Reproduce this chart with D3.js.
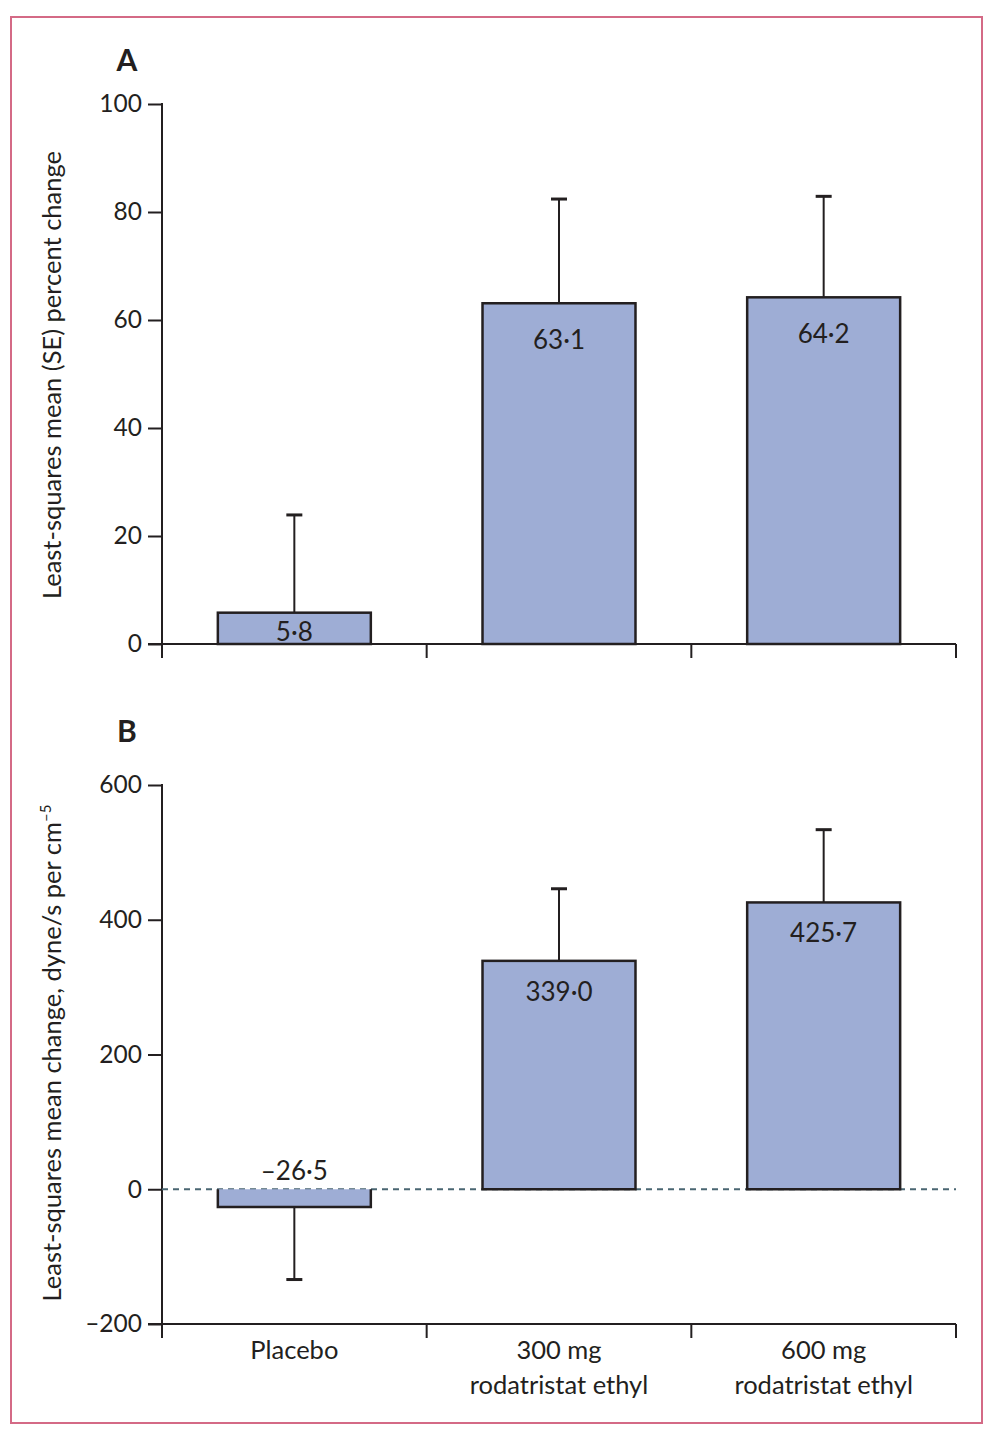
<!DOCTYPE html>
<html><head><meta charset="utf-8">
<script src="https://cdn.jsdelivr.net/npm/d3@7"></script>
<style>body{margin:0;background:#fff}</style>
</head><body>
<script>
const categories = ["Placebo", "300 mg rodatristat ethyl", "600 mg rodatristat ethyl"];
const categoryLines = [["Placebo"], ["300 mg", "rodatristat ethyl"], ["600 mg", "rodatristat ethyl"]];
const valuesA = [5.8, 63.1, 64.2];
const seA = [18.1, 19.3, 18.7];
const labelsA = ["5·8", "63·1", "64·2"];
const ticksA = [0, 20, 40, 60, 80, 100];
const valuesB = [-26.5, 339.0, 425.7];
const seB = [107.5, 107, 108];
const labelsB = ["–26·5", "339·0", "425·7"];
const ticksB = [-200, 0, 200, 400, 600];
const tickLabelsB = ["–200", "0", "200", "400", "600"];

const W = 1001, H = 1434;
const FONT = "Lato, 'Open Sans', sans-serif";
const INK = "#231f20", FILL = "#9eadd5";
const svg = d3.select("body").append("svg").attr("width", W).attr("height", H)
  .style("font-family", FONT);

svg.append("rect").attr("x", 11).attr("y", 17).attr("width", 971).attr("height", 1406)
  .attr("fill", "none").attr("stroke", "#d46a86").attr("stroke-width", 2);

const x = d3.scaleBand().domain(categories).range([162, 956]).paddingInner(0.422).paddingOuter(0.211);

function panel(opt) {
  const y = d3.scaleLinear().domain(opt.domain).range(opt.range);
  const g = svg.append("g");
  g.append("text").attr("x", 127).attr("y", opt.letterY).attr("text-anchor", "middle")
    .attr("font-weight", "bold").attr("font-size", 30).attr("fill", INK).text(opt.letter);
  const yAxis = d3.axisLeft(y).tickValues(opt.ticks).tickSize(14).tickPadding(6)
    .tickFormat((d, i) => opt.tickLabels ? opt.tickLabels[i] : d);
  const ya = g.append("g").attr("transform", "translate(162,0)").call(yAxis);
  ya.select(".domain").remove();
  ya.selectAll("line").attr("stroke", INK).attr("stroke-width", 2);
  ya.selectAll("text").attr("font-size", 24.5).attr("fill", INK).attr("font-family", FONT);
  const yTop = y(opt.domain[1]), yBot = y(opt.domain[0]);
  g.append("line").attr("x1", 162).attr("x2", 162).attr("y1", yTop - 1).attr("y2", yBot + 14)
    .attr("stroke", INK).attr("stroke-width", 2);
  g.append("line").attr("x1", 148).attr("x2", 956).attr("y1", yBot).attr("y2", yBot)
    .attr("stroke", INK).attr("stroke-width", 2);
  const step = x.step();
  [0, 1, 2, 3].forEach(i => {
    g.append("line").attr("x1", 162 + i * step).attr("x2", 162 + i * step)
      .attr("y1", yBot).attr("y2", yBot + 14).attr("stroke", INK).attr("stroke-width", 2);
  });
  if (opt.zeroDashed) {
    g.append("line").attr("x1", 162).attr("x2", 956).attr("y1", y(0)).attr("y2", y(0))
      .attr("stroke", "#4a6672").attr("stroke-width", 2).attr("stroke-dasharray", "6,5");
  }
  categories.forEach((c, i) => {
    const cx = x(c) + x.bandwidth() / 2;
    const v = opt.values[i], s = opt.se[i];
    const end = v >= 0 ? v + s : v - s;
    g.append("line").attr("x1", cx).attr("x2", cx).attr("y1", y(v)).attr("y2", y(end))
      .attr("stroke", INK).attr("stroke-width", 2);
    g.append("line").attr("x1", cx - 8).attr("x2", cx + 8).attr("y1", y(end)).attr("y2", y(end))
      .attr("stroke", INK).attr("stroke-width", 3);
  });
  categories.forEach((c, i) => {
    const v = opt.values[i];
    const top = y(Math.max(0, v)), bot = y(Math.min(0, v));
    if (v >= 0) {
      g.append("rect").attr("x", x(c)).attr("y", top).attr("width", x.bandwidth()).attr("height", bot - top)
        .attr("fill", FILL).attr("stroke", INK).attr("stroke-width", 2.5);
    } else {
      g.append("rect").attr("x", x(c)).attr("y", top).attr("width", x.bandwidth()).attr("height", bot - top)
        .attr("fill", FILL).attr("stroke", "none");
      const x0 = x(c), x1 = x(c) + x.bandwidth();
      g.append("path").attr("d", `M${x0},${top}V${bot}H${x1}V${top}`)
        .attr("fill", "none").attr("stroke", INK).attr("stroke-width", 2.5);
    }
  });
  categories.forEach((c, i) => {
    const cx = x(c) + x.bandwidth() / 2;
    const v = opt.values[i];
    let ly;
    if (v < 0) ly = y(0) - 9;
    else if (y(0) - y(v) < 50) ly = y(0) - 3;
    else ly = y(v) + opt.labelOffset;
    g.append("text").attr("x", cx).attr("y", ly).attr("text-anchor", "middle")
      .attr("font-size", 26).attr("fill", INK).text(opt.labels[i]);
  });
  const t = g.append("text").attr("transform", `translate(${opt.titleX},${opt.titleY}) rotate(-90)`)
    .attr("text-anchor", "middle").attr("font-size", 25.5).attr("fill", INK);
  opt.title(t);
}

panel({
  letter: "A", letterY: 71, domain: [0, 100], range: [644, 104], ticks: ticksA,
  values: valuesA, se: seA, labels: labelsA, labelOffset: 46, titleX: 61, titleY: 375,
  title: t => t.text("Least-squares mean (SE) percent change")
});

panel({
  letter: "B", letterY: 742, domain: [-200, 600], range: [1324, 785], ticks: ticksB, tickLabels: tickLabelsB,
  values: valuesB, se: seB, labels: labelsB, labelOffset: 40, zeroDashed: true, titleX: 61, titleY: 1053,
  title: t => { t.append("tspan").text("Least-squares mean change, dyne/s per cm");
                t.append("tspan").attr("font-size", 15).attr("dy", -10).text("–5"); }
});

categories.forEach((c, i) => {
  const cx = x(c) + x.bandwidth() / 2;
  categoryLines[i].forEach((line, j) => {
    svg.append("text").attr("x", cx).attr("y", 1359 + j * 35).attr("text-anchor", "middle")
      .attr("font-size", 25.5).attr("fill", INK).text(line);
  });
});
</script>
</body></html>
